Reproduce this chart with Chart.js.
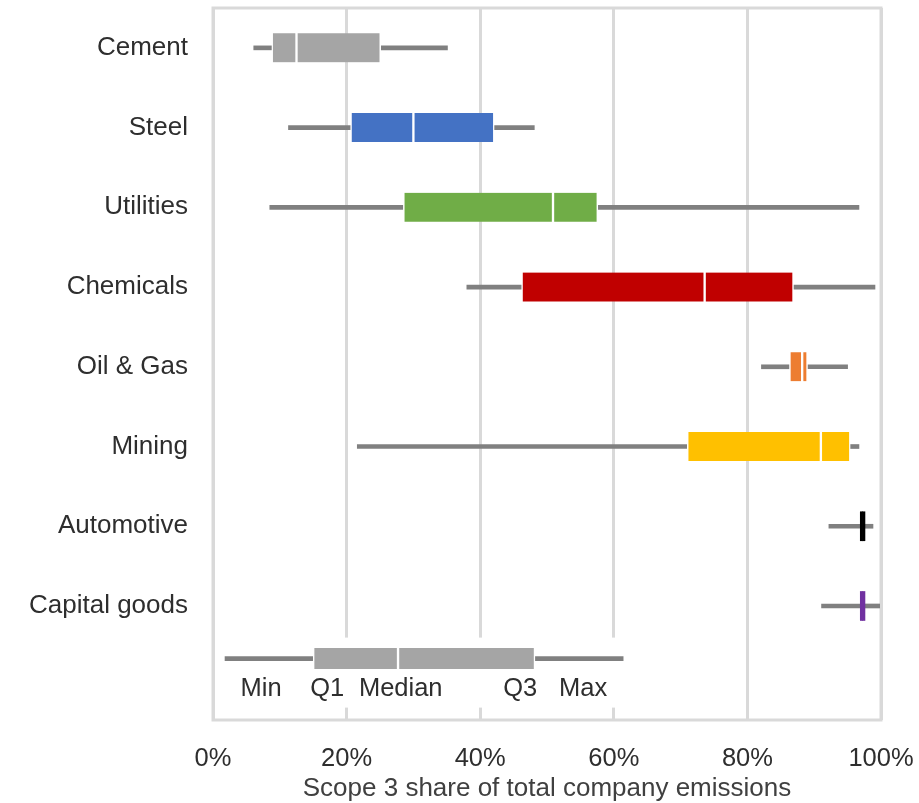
<!DOCTYPE html>
<html>
<head>
<meta charset="utf-8">
<script src="https://cdn.jsdelivr.net/npm/chart.js@4.4.1/dist/chart.umd.min.js"></script>
<style>
    html, body { margin: 0; padding: 0; background: #fff; }
    #wrap { width: 919px; height: 803px; }
</style>
</head>
<body>
<div id="wrap"><canvas id="boxChart"></canvas></div>
<script>
// Sector data (share of scope 3 in %)
const categories = ['Cement', 'Steel', 'Utilities', 'Chemicals', 'Oil & Gas', 'Mining', 'Automotive', 'Capital goods'];
const minVals    = [6.1, 11.3, 8.5, 38.0, 82.1, 21.6, 92.2, 91.1];
const q1Vals     = [8.8, 20.6, 28.5, 46.2, 86.3, 71.0, 96.9, 96.9];
const medianVals = [12.5, 30.0, 50.9, 73.6, 88.2, 91.0, 97.25, 97.25];
const q3Vals     = [25.1, 42.1, 57.6, 86.9, 89.0, 95.4, 97.6, 97.6];
const maxVals    = [35.1, 48.1, 96.7, 99.1, 95.0, 96.7, 98.8, 99.8];
const boxColors  = ['#a5a5a5', '#4472c4', '#70ad47', '#c00000', '#ed7d31', '#ffc000', '#000000', '#7030a0'];

// Key in the lower left: min, q1, median, q3, max
const keyStats  = [1.8, 15.0, 27.7, 48.2, 61.4];
const keyLabels = ['Min', 'Q1', 'Median', 'Q3', 'Max'];
const keyRow = 7.66;

const xTicks = [0, 20, 40, 60, 80, 100];

const FONT = "'Liberation Sans', Arial, sans-serif";
const TEXT = '#2e2e2e';
const GRID = '#d9d9d9';
const WHISKER = '#808080';

const rows = categories.map((_, i) => i);
const span = (a, b) => rows.map(i => ({ x: [a[i], b[i]], y: i }));

// white gaps at the box edges and at the median, none for very narrow boxes
function boxBorder(ctx) {
    const r = ctx.raw;
    if (!r) return 0;
    const w = Math.abs(r.x[1] - r.x[0]);
    return w < 0.6 ? 0 : { left: 1.5, right: 1.5, top: 0, bottom: 0 };
}

// frame, white panel behind the key and the key labels
const framePlugin = {
    id: 'frame',
    beforeDatasetsDraw(chart) {
        const { ctx, chartArea: a, scales: { x, y } } = chart;
        ctx.save();
        const cy = y.getPixelForValue(keyRow);
        ctx.fillStyle = '#fff';
        ctx.fillRect(x.getPixelForValue(1.5), cy - 21, x.getPixelForValue(63.5) - x.getPixelForValue(1.5), 70);
        ctx.strokeStyle = GRID;
        ctx.lineWidth = 3;
        ctx.strokeRect(a.left, a.top, a.right - a.left, a.bottom - a.top);
        ctx.restore();
    },
    afterDatasetsDraw(chart) {
        const { ctx, scales: { x, y } } = chart;
        const labelAt = [7.2, 17.1, 28.1, 46.0, 55.4];
        ctx.save();
        ctx.font = '25.5px ' + FONT;
        ctx.fillStyle = TEXT;
        ctx.textAlign = 'center';
        ctx.textBaseline = 'middle';
        const ty = y.getPixelForValue(keyRow) + 30;
        keyLabels.forEach((t, i) => ctx.fillText(t, x.getPixelForValue(labelAt[i]), ty));
        ctx.restore();
    }
};

new Chart(document.getElementById('boxChart'), {
    type: 'bar',
    data: {
        datasets: [
            {
                data: span(q1Vals, medianVals),
                backgroundColor: boxColors,
                borderColor: '#fff',
                borderWidth: boxBorder,
                borderSkipped: false,
                barThickness: 29
            },
            {
                data: span(medianVals, q3Vals),
                backgroundColor: boxColors,
                borderColor: '#fff',
                borderWidth: boxBorder,
                borderSkipped: false,
                barThickness: 29
            },
            {
                data: span(minVals, q1Vals),
                backgroundColor: WHISKER,
                barThickness: 4
            },
            {
                data: span(q3Vals, maxVals),
                backgroundColor: WHISKER,
                barThickness: 4
            },
            {
                data: [{ x: [keyStats[1], keyStats[2]], y: keyRow }, { x: [keyStats[2], keyStats[3]], y: keyRow }],
                backgroundColor: '#a5a5a5',
                borderColor: '#fff',
                borderWidth: { left: 1.5, right: 1.5, top: 0, bottom: 0 },
                borderSkipped: false,
                barThickness: 21
            },
            {
                data: [{ x: [keyStats[0], keyStats[1]], y: keyRow }, { x: [keyStats[3], keyStats[4]], y: keyRow }],
                backgroundColor: WHISKER,
                barThickness: 4
            }
        ]
    },
    options: {
        indexAxis: 'y',
        responsive: true,
        maintainAspectRatio: false,
        animation: false,
        grouped: false,
        layout: { padding: { left: 0, right: 38, top: 8, bottom: 0 } },
        plugins: {
            legend: { display: false },
            tooltip: { enabled: false }
        },
        scales: {
            x: {
                type: 'linear',
                min: 0,
                max: 100,
                afterBuildTicks: s => { s.ticks = xTicks.map(v => ({ value: v })); },
                afterFit: s => { s.height = 83; s.paddingLeft = 0; s.paddingRight = 0; },
                grid: { color: GRID, lineWidth: 3, drawTicks: false },
                border: { display: false },
                ticks: {
                    padding: 24,
                    color: TEXT,
                    font: { family: FONT, size: 25.5 },
                    callback: v => v + '%'
                },
                title: {
                    display: true,
                    text: 'Scope 3 share of total company emissions',
                    color: '#404040',
                    font: { family: FONT, size: 26 },
                    padding: { top: 0, bottom: -1 }
                }
            },
            y: {
                type: 'linear',
                reverse: true,
                offset: false,
                min: -0.5,
                max: 8.43,
                afterBuildTicks: s => { s.ticks = rows.map(i => ({ value: i })); },
                afterFit: s => { s.width = 213; s.paddingTop = 0; s.paddingBottom = 0; },
                grid: { display: false, drawTicks: false },
                border: { display: false },
                ticks: {
                    padding: 25,
                    color: TEXT,
                    font: { family: FONT, size: 26 },
                    callback: v => categories[v]
                }
            }
        }
    },
    plugins: [framePlugin]
});
</script>
</body>
</html>
